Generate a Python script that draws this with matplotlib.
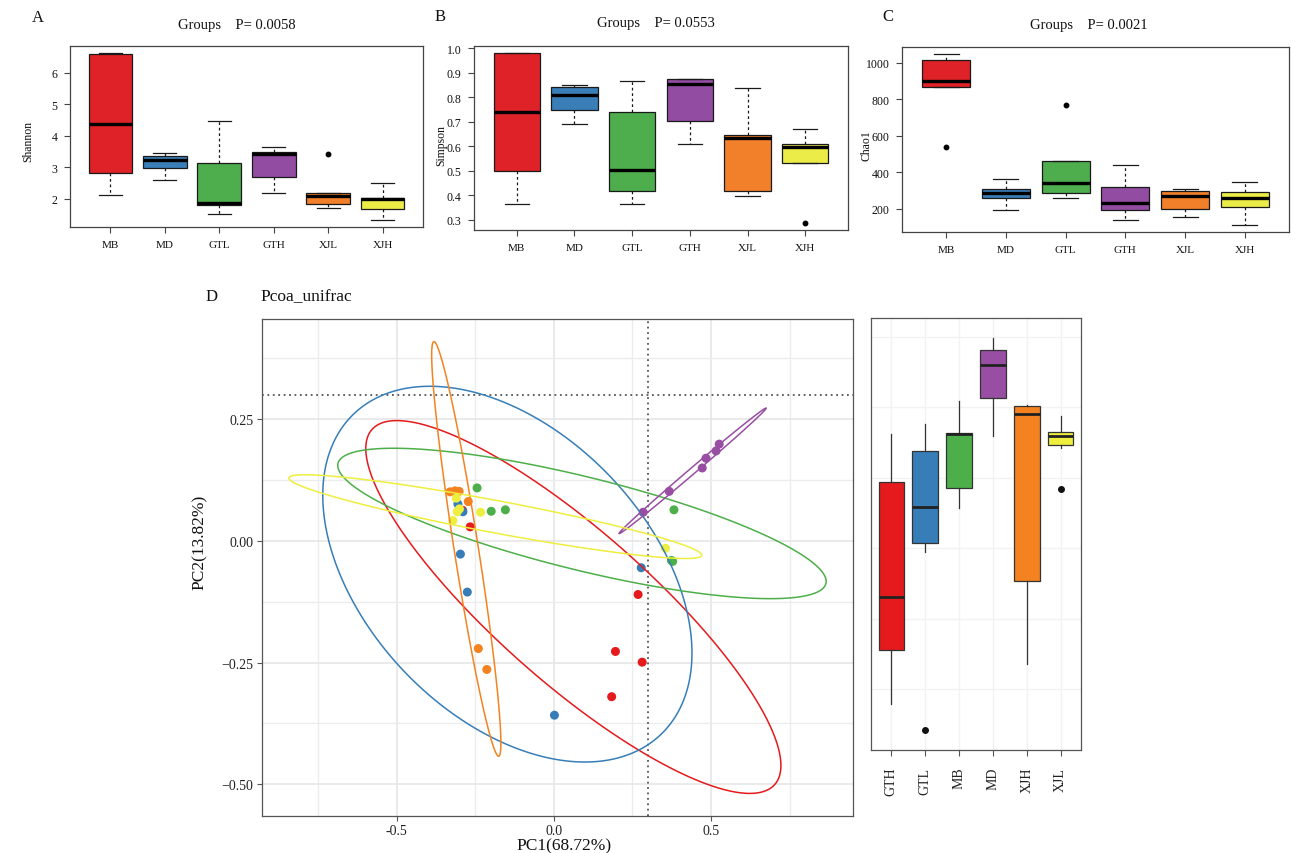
import numpy as np
import matplotlib
matplotlib.use('Agg')
import matplotlib.pyplot as plt
from matplotlib.ticker import FormatStrFormatter, FixedLocator

plt.rcParams['font.family'] = ['Liberation Serif', 'DejaVu Serif']

# ---------------- data: alpha diversity (panels A-C) ----------------
groups_top = ['MB', 'MD', 'GTL', 'GTH', 'XJL', 'XJH']

shannon_med = [4.37, 3.22, 1.86, 3.41, 2.09, 1.98]
shannon_q1 = [2.82, 2.96, 1.81, 2.68, 1.83, 1.67]
shannon_q3 = [6.59, 3.34, 3.12, 3.49, 2.18, 2.01]
shannon_lo = [2.10, 2.60, 1.51, 2.19, 1.69, 1.31]
shannon_hi = [6.64, 3.46, 4.46, 3.65, 2.18, 2.49]
shannon_out = [[], [], [], [], [3.41], []]

simpson_med = [0.740, 0.810, 0.504, 0.856, 0.634, 0.595]
simpson_q1 = [0.500, 0.750, 0.417, 0.704, 0.417, 0.532]
simpson_q3 = [0.982, 0.842, 0.738, 0.876, 0.645, 0.607]
simpson_lo = [0.364, 0.692, 0.364, 0.609, 0.398, 0.532]
simpson_hi = [0.982, 0.849, 0.868, 0.876, 0.837, 0.672]
simpson_out = [[], [], [], [], [], [0.285]]

chao1_med = [898, 283, 341, 231, 271, 258]
chao1_q1 = [869, 259, 287, 192, 196, 207]
chao1_q3 = [1016, 306, 459, 316, 298, 289]
chao1_lo = [869, 192, 256, 138, 154, 109]
chao1_hi = [1049, 363, 459, 437, 306, 345]
chao1_out = [[539], [], [768], [], [], []]

p_values = ['0.0058', '0.0553', '0.0021']

# ---------------- data: PCoA (panel D) ----------------
pc_groups = ['GTH', 'GTL', 'MB', 'MD', 'XJH', 'XJL']
pc1_values = [
    [-0.290, -0.266, 0.268, 0.196, 0.281, 0.184],     # GTH
    [-0.305, -0.289, -0.297, -0.275, 0.002, 0.278],   # GTL
    [-0.244, -0.199, -0.154, 0.382, 0.378, 0.374],    # MB
    [0.284, 0.367, 0.472, 0.484, 0.516, 0.526],       # MD
    [-0.330, -0.314, -0.301, -0.272, -0.240, -0.213], # XJH
    [-0.310, -0.307, -0.233, -0.321, 0.355, -0.300],  # XJL
]
pc2_values = [
    [0.063, 0.029, -0.110, -0.227, -0.249, -0.320],
    [0.076, 0.060, -0.027, -0.105, -0.358, -0.055],
    [0.109, 0.061, 0.064, 0.064, -0.042, -0.040],
    [0.059, 0.102, 0.150, 0.170, 0.185, 0.199],
    [0.101, 0.103, 0.102, 0.081, -0.221, -0.264],
    [0.088, 0.060, 0.059, 0.042, -0.015, 0.066],
]
# 95% ellipse shape: semi-extent in x, in y, and correlation
ell_sx = [0.660, 0.587, 0.7765, 0.234, 0.110, 0.6565]
ell_sy = [0.383, 0.386, 0.1545, 0.129, 0.426, 0.086]
ell_r = [-0.85, -0.42, -0.771, 0.998, -0.935, -0.92]
ref_line = 0.3

# ---------------- styles ----------------
col = {'MB': '#DE2227', 'MD': '#3A7EB8', 'GTL': '#4EAD4C', 'GTH': '#924DA3',
       'XJL': '#F27F2A', 'XJH': '#ECEC48'}
pc_col = {'GTH': '#E41A1C', 'GTL': '#377EB8', 'MB': '#4DAF4A', 'MD': '#984EA3',
          'XJH': '#F58220', 'XJL': '#EEEE3E'}

W, H = 1297, 854
fig = plt.figure(figsize=(W / 100, H / 100), dpi=100)
fig.patch.set_facecolor('white')


def axes_px(l, t, r, b):
    return fig.add_axes([l / W, 1 - b / H, (r - l) / W, (b - t) / H])


def top_panel(box, med, q1, q3, lo, hi, out, yticks, fmt, ylabel, ylab_xy,
              letter, letter_xy, title_xy, pval):
    ax = axes_px(*box)
    stats = []
    for g, m, a, b, l, h, f in zip(groups_top, med, q1, q3, lo, hi, out):
        stats.append(dict(med=m, q1=a, q3=b, whislo=l, whishi=h, fliers=f, label=g))
    bp = ax.bxp(stats, positions=range(1, 7), widths=0.8, patch_artist=True,
                capwidths=0.42,
                boxprops=dict(edgecolor='#1a1a1a', linewidth=0.9),
                whiskerprops=dict(linestyle=(0, (2.2, 2.2)), color='#1a1a1a', linewidth=0.9),
                capprops=dict(color='#1a1a1a', linewidth=0.9),
                medianprops=dict(color='black', linewidth=2.4, solid_capstyle='butt'),
                flierprops=dict(marker='o', markerfacecolor='black',
                                markeredgecolor='black', markersize=3.2))
    for patch, g in zip(bp['boxes'], groups_top):
        patch.set_facecolor(col[g])
    allv = lo + hi + [v for f in out for v in f]
    vmin, vmax = min(allv), max(allv)
    pad = 0.04 * (vmax - vmin)
    ax.set_ylim(vmin - pad, vmax + pad)
    ax.set_xlim(0.26, 6.74)
    ax.set_yticks(yticks)
    ax.yaxis.set_major_formatter(FormatStrFormatter(fmt))
    ax.set_xticks(range(1, 7))
    ax.set_xticklabels(groups_top)
    ax.tick_params(direction='out', length=4, width=0.8, color='#444',
                   labelcolor='#111')
    ax.tick_params(axis='x', labelsize=8, pad=5.5)
    ax.tick_params(axis='y', labelsize=8.5, pad=5)
    for s in ax.spines.values():
        s.set_color('#444')
        s.set_linewidth(0.9)
    fig.text(ylab_xy[0] / W, 1 - ylab_xy[1] / H, ylabel, rotation=90,
             ha='center', va='center', fontsize=8.5, color='#111')
    fig.text(letter_xy[0] / W, 1 - letter_xy[1] / H, letter, ha='center',
             va='center', fontsize=12, color='#111')
    fig.text(title_xy[0] / W, 1 - title_xy[1] / H, 'Groups    P= ' + pval,
             ha='center', va='center', fontsize=10.5, color='#111')
    return ax


top_panel((70, 47, 423, 228), shannon_med, shannon_q1, shannon_q3, shannon_lo,
          shannon_hi, shannon_out, [2, 3, 4, 5, 6], '%d', 'Shannon', (28, 141),
          'A', (38, 18), (237, 25), p_values[0])
top_panel((474, 47, 848, 231), simpson_med, simpson_q1, simpson_q3, simpson_lo,
          simpson_hi, simpson_out, np.arange(0.3, 1.01, 0.1), '%.1f', 'Simpson',
          (441, 146), 'B', (440, 17), (656, 24), p_values[1])
top_panel((902, 48, 1289, 233), chao1_med, chao1_q1, chao1_q3, chao1_lo,
          chao1_hi, chao1_out, [200, 400, 600, 800, 1000], '%d', 'Chao1',
          (867, 146), 'C', (888, 17), (1089, 25), p_values[2])

# ---------------- panel D: PCoA scatter ----------------
axd = axes_px(262, 320, 853, 817)
axd.set_facecolor('white')
t = np.linspace(0, 2 * np.pi, 720, endpoint=False)
xs_all, ys_all = [], []
ell_curves = []
for g, x, y, sx, sy, r in zip(pc_groups, pc1_values, pc2_values, ell_sx, ell_sy, ell_r):
    cx, cy = np.mean(x), np.mean(y)
    ex = cx + sx * np.cos(t)
    ey = cy + sy * (r * np.cos(t) + np.sqrt(1 - r * r) * np.sin(t))
    ell_curves.append((g, ex, ey))
    xs_all += list(ex)
    ys_all += list(ey)

xmin, xmax = min(xs_all), max(xs_all)
ymin, ymax = min(ys_all), max(ys_all)
axd.set_xlim(xmin - 0.05 * (xmax - xmin), xmax + 0.05 * (xmax - xmin))
axd.set_ylim(ymin - 0.05 * (ymax - ymin), ymax + 0.05 * (ymax - ymin))

axd.set_xticks([-0.5, 0.0, 0.5])
axd.set_xticklabels(['-0.5', '0.0', '0.5'])
axd.set_yticks([-0.5, -0.25, 0.0, 0.25])
axd.set_yticklabels(['\u22120.50', '\u22120.25', '0.00', '0.25'])
axd.xaxis.set_minor_locator(FixedLocator([-0.75, -0.25, 0.25, 0.75]))
axd.yaxis.set_minor_locator(FixedLocator([-0.375, -0.125, 0.125, 0.375]))
axd.grid(which='major', color='#e6e6e6', linewidth=1.2, zorder=0)
axd.grid(which='minor', color='#ececec', linewidth=1.0, zorder=0)
axd.set_axisbelow(True)
axd.tick_params(which='major', direction='out', length=3.5, width=0.8, color='#555',
                labelsize=10, labelcolor='#222', pad=2.5)
axd.tick_params(which='minor', length=0)
for s in axd.spines.values():
    s.set_color('#555')
    s.set_linewidth(0.9)

axd.axvline(ref_line, color='#555', linestyle=(0, (1, 2)), linewidth=1.3, zorder=1)
axd.axhline(ref_line, color='#555', linestyle=(0, (1, 2)), linewidth=1.3, zorder=1)

for g, x, y in zip(pc_groups, pc1_values, pc2_values):
    axd.scatter(x, y, s=42, color=pc_col[g], edgecolors='none', zorder=3)
for g, ex, ey in ell_curves:
    axd.fill(ex, ey, fill=False, edgecolor=pc_col[g], linewidth=1.1, zorder=4,
             joinstyle='round')

fig.text(212 / W, 1 - 297 / H, 'D', ha='center', va='center', fontsize=12, color='#111')
fig.text(260 / W, 1 - 297 / H, 'Pcoa_unifrac', ha='left', va='center', fontsize=12.5,
         color='#111')
fig.text(564 / W, 1 - 846 / H, 'PC1(68.72%)', ha='center', va='center', fontsize=12.5,
         color='#111')
fig.text(200 / W, 1 - 542 / H, 'PC2(13.82%)', ha='center', va='center', fontsize=12.5,
         rotation=90, color='#111')

# ---------------- panel D: PC2 boxplot ----------------
axb = axes_px(871, 319, 1081, 751)
axb.set_facecolor('white')
bp = axb.boxplot(pc2_values, positions=range(1, 7), widths=0.75, patch_artist=True,
                 whis=1.5, showcaps=False,
                 boxprops=dict(edgecolor='#333', linewidth=0.9),
                 whiskerprops=dict(color='#333', linewidth=0.9),
                 medianprops=dict(color='#222', linewidth=2.0, solid_capstyle='butt'),
                 flierprops=dict(marker='o', markerfacecolor='#111',
                                 markeredgecolor='#111', markersize=4))
for patch, g in zip(bp['boxes'], pc_groups):
    patch.set_facecolor(pc_col[g])
allpc2 = [v for grp in pc2_values for v in grp]
lo2, hi2 = min(allpc2), max(allpc2)
axb.set_ylim(lo2 - 0.05 * (hi2 - lo2), hi2 + 0.05 * (hi2 - lo2))
axb.set_xlim(0.4, 6.6)
axb.set_xticks(range(1, 7))
axb.set_xticklabels(pc_groups, rotation=90, va='top')
axb.set_yticks([-0.3, -0.2, -0.1, 0.0, 0.1, 0.2])
axb.set_yticklabels([])
axb.grid(color='#f2f2f2', linewidth=1.0, zorder=0)
axb.set_axisbelow(True)
axb.tick_params(axis='x', direction='out', length=4, width=0.8, color='#555',
                labelsize=10, labelcolor='#222', pad=8)
axb.tick_params(axis='y', length=0)
for s in axb.spines.values():
    s.set_color('#555')
    s.set_linewidth(0.9)

fig.savefig('out.png', dpi=100)
